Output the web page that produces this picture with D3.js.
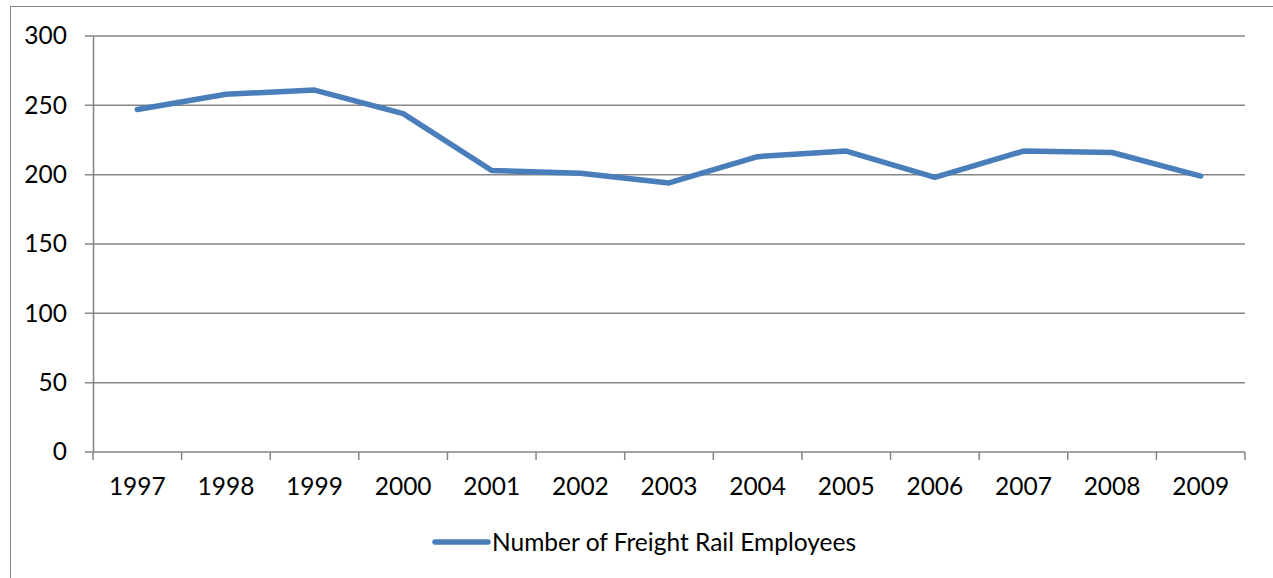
<!DOCTYPE html>
<html>
<head>
<meta charset="utf-8">
<script src="https://cdn.jsdelivr.net/npm/d3@7"></script>
<style>
  html, body { margin: 0; padding: 0; background: #fff; }
  svg text { font-family: Lato, "Open Sans", sans-serif; fill: #000; }
</style>
</head>
<body>
<div id="graph"></div>
<script>
"use strict";
const years = ["1997", "1998", "1999", "2000", "2001", "2002", "2003",
               "2004", "2005", "2006", "2007", "2008", "2009"];
const employees = [247, 258, 261, 244, 203, 201, 194, 213, 217, 198, 217, 216, 199];
const yTicks = [0, 50, 100, 150, 200, 250, 300];
const seriesName = "Number of Freight Rail Employees";

(function() {
    const width = 1273, height = 578;
    const plot = { left: 93, right: 1245, top: 36, bottom: 452 };
    const gridColor = "#868686";
    const lineColor = "#4a7ebb";
    const fontSize = "24.5px";

    const svg = d3.select("#graph")
        .append("svg")
            .attr("width", width)
            .attr("height", height);

    // outer chart frame
    svg.append("rect")
        .attr("x", 10.5).attr("y", 6.5)
        .attr("width", width + 20).attr("height", height + 20)
        .attr("fill", "none")
        .attr("stroke", gridColor)
        .attr("stroke-width", 1);

    const xScale = d3.scaleBand()
        .domain(years)
        .range([plot.left, plot.right]);

    const yScale = d3.scaleLinear()
        .domain([0, 300])
        .range([plot.bottom, plot.top]);

    // horizontal gridlines
    svg.append("g")
        .selectAll("line")
        .data(yTicks)
        .enter()
        .append("line")
            .attr("x1", plot.left - 8)
            .attr("x2", plot.right)
            .attr("y1", d => yScale(d))
            .attr("y2", d => yScale(d))
            .attr("stroke", gridColor)
            .attr("stroke-width", 1.5);

    // y axis
    const yAxis = svg.append("g")
        .attr("transform", "translate(" + plot.left + ",0)")
        .call(d3.axisLeft(yScale).tickValues(yTicks).tickSize(0).tickPadding(26));
    yAxis.select(".domain").attr("stroke", gridColor).attr("stroke-width", 1.5);
    yAxis.selectAll("text").attr("font-size", fontSize)
        .style("font-family", "Lato, sans-serif");

    // x axis (ticks between categories)
    const xAxis = svg.append("g")
        .attr("transform", "translate(0," + plot.bottom + ")")
        .call(d3.axisBottom(xScale).tickSize(0).tickPadding(26));
    xAxis.select(".domain").remove();
    xAxis.selectAll("text").attr("font-size", fontSize)
        .style("font-family", "Lato, sans-serif");

    const boundaries = years.map(y => xScale(y)).concat([plot.right]);
    svg.append("g")
        .selectAll("line")
        .data(boundaries)
        .enter()
        .append("line")
            .attr("x1", d => d).attr("x2", d => d)
            .attr("y1", plot.bottom).attr("y2", plot.bottom + 8)
            .attr("stroke", gridColor)
            .attr("stroke-width", 1.5);

    // series line
    const line = d3.line()
        .x((d, i) => xScale(years[i]) + xScale.bandwidth() / 2)
        .y(d => yScale(d));

    svg.append("path")
        .datum(employees)
        .attr("d", line)
        .attr("fill", "none")
        .attr("stroke", lineColor)
        .attr("stroke-width", 5.5)
        .attr("stroke-linecap", "round")
        .attr("stroke-linejoin", "round");

    // legend
    const legend = svg.append("g").attr("transform", "translate(435,542)");
    legend.append("line")
        .attr("x1", 0).attr("x2", 53)
        .attr("y1", 0).attr("y2", 0)
        .attr("stroke", lineColor)
        .attr("stroke-width", 5.5)
        .attr("stroke-linecap", "round");
    legend.append("text")
        .attr("x", 57).attr("y", 9)
        .attr("font-size", fontSize)
        .text(seriesName);
})();
</script>
</body>
</html>
